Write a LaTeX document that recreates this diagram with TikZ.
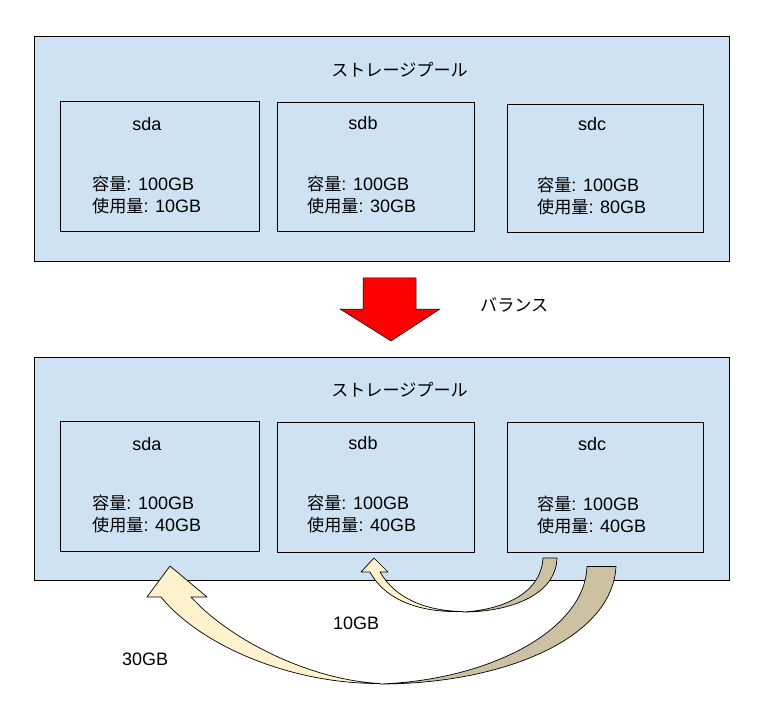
\documentclass[tikz,border=0pt]{standalone}
\usepackage{fontspec}
\setmainfont{Liberation Sans}
\newfontfamily\cjk[Scale=0.95]{Noto Sans CJK JP}
\definecolor{poolblue}{HTML}{CFE2F3}
\definecolor{arrowlight}{HTML}{FFF2CC}
\definecolor{arrowdark}{HTML}{CCC2A3}
\definecolor{redarrow}{HTML}{FF0000}
\tikzset{
  poolbox/.style={draw=black, line width=1pt, fill=poolblue, inner sep=0pt, anchor=north west},
  diskbox/.style={draw=black, line width=1pt, inner sep=0pt, anchor=north west},
  txt/.style={inner sep=0pt, anchor=base west},
  ctxt/.style={inner sep=0pt, anchor=base},
  ribbon/.style={draw=black, line width=0.7pt, line join=round},
}
\begin{document}
\begin{tikzpicture}[x=1pt, y=-1pt, font=\fontsize{18}{22}\selectfont]
\useasboundingbox (0,0) rectangle (762,708);
\fill[white] (0,0) rectangle (762,708);

% ---------- top pool ----------
\node[poolbox, minimum width=695pt, minimum height=225pt] (pool1) at (34,36) {};
\node[ctxt] (title1) at (399.5,76.5) {\cjk ストレージプール};
\node[diskbox, minimum width=199pt, minimum height=130pt] (sda1) at (60,101) {};
\node[diskbox, minimum width=197pt, minimum height=129pt] (sdb1) at (277,102) {};
\node[diskbox, minimum width=196pt, minimum height=128pt] (sdc1) at (507,104) {};
\node[ctxt] (sda1l) at (147,130.5) {sda};
\node[ctxt] (sdb1l) at (363,129.5) {sdb};
\node[ctxt] (sdc1l) at (592,130.5) {sdc};
\node[txt] (sda1c) at (92,190.5) {{\cjk 容量}: 100GB};
\node[txt] (sda1u) at (92,212.5) {{\cjk 使用量}: 10GB};
\node[txt] (sdb1c) at (307,190.5) {{\cjk 容量}: 100GB};
\node[txt] (sdb1u) at (307,212.5) {{\cjk 使用量}: 30GB};
\node[txt] (sdc1c) at (537,191.5) {{\cjk 容量}: 100GB};
\node[txt] (sdc1u) at (537,213.5) {{\cjk 使用量}: 80GB};

% ---------- red arrow ----------
\draw[fill=redarrow, draw=black, line width=0.5pt, line join=miter]
  (363,278) -- (416,278) -- (416,309) -- (440,309) -- (391,341) -- (340,309) -- (363,309) -- cycle;
\node[txt] (balance) at (480,311.5) {\cjk バランス};

% ---------- bottom pool ----------
\node[poolbox, minimum width=695pt, minimum height=223pt] (pool2) at (34,357) {};
\node[ctxt] (title2) at (399.5,396.5) {\cjk ストレージプール};
\node[diskbox, minimum width=199pt, minimum height=130pt] (sda2) at (60,421) {};
\node[diskbox, minimum width=197pt, minimum height=130pt] (sdb2) at (277,422) {};
\node[diskbox, minimum width=196pt, minimum height=130pt] (sdc2) at (507,422) {};
\node[ctxt] (sda2l) at (147,450.5) {sda};
\node[ctxt] (sdb2l) at (363,449.5) {sdb};
\node[ctxt] (sdc2l) at (592,450.5) {sdc};
\node[txt] (sda2c) at (92,509.5) {{\cjk 容量}: 100GB};
\node[txt] (sda2u) at (92,531.5) {{\cjk 使用量}: 40GB};
\node[txt] (sdb2c) at (307,509.5) {{\cjk 容量}: 100GB};
\node[txt] (sdb2u) at (307,531.5) {{\cjk 使用量}: 40GB};
\node[txt] (sdc2c) at (537,510.5) {{\cjk 容量}: 100GB};
\node[txt] (sdc2u) at (537,532.5) {{\cjk 使用量}: 40GB};

% ---------- small curved arrow (10GB) ----------
\draw[ribbon, fill=arrowdark]
  (543,558) -- (557,558) .. controls (556,595) and (510,612) .. (463,612)
  .. controls (500,610) and (541,595) .. (543,558) -- cycle;
\draw[ribbon, fill=arrowlight]
  (374,558) -- (388,572) -- (380,572) .. controls (395,598) and (425,611) .. (463,611.5)
  .. controls (420,613) and (385,600) .. (370,572) -- (361,572) -- cycle;

% ---------- large curved arrow (30GB) ----------
\draw[ribbon, fill=arrowdark]
  (587,566.5) -- (616,566.5) .. controls (612,640) and (500,684) .. (380,684)
  .. controls (490,680) and (585,630) .. (587,566.5) -- cycle;
\draw[ribbon, fill=arrowlight]
  (170,566) -- (207,597) -- (191,597) .. controls (230,640) and (310,680) .. (380,683.5)
  .. controls (290,684) and (200,645) .. (161,597) -- (147,597) -- cycle;

\node[txt] (l10) at (333,629.5) {10GB};
\node[txt] (l30) at (122,665.5) {30GB};
\end{tikzpicture}
\end{document}
